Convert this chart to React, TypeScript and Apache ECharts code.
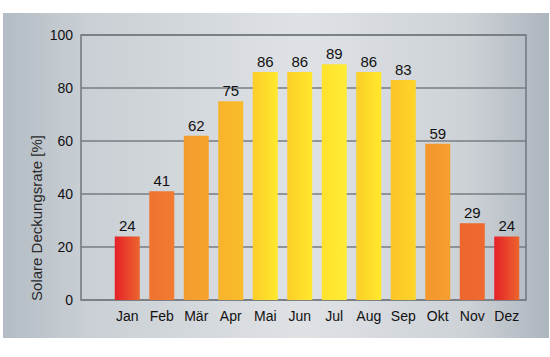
import React, { useEffect, useRef } from "react";
import * as echarts from "echarts";

const months = ["Jan", "Feb", "Mär", "Apr", "Mai", "Jun", "Jul", "Aug", "Sep", "Okt", "Nov", "Dez"];
const coverage = [24, 41, 62, 75, 86, 86, 89, 86, 83, 59, 29, 24];
const yTicks = [0, 20, 40, 60, 80, 100];
const yTitle = "Solare Deckungsrate [%]";

const colorStops: [number, number[]][] = [
  [24, [229, 32, 40]],
  [27, [236, 100, 46]],
  [41, [240, 115, 48]],
  [60, [244, 152, 46]],
  [75, [247, 180, 44]],
  [83, [251, 196, 40]],
  [86, [252, 206, 40]],
  [90, [255, 232, 44]],
  [96, [255, 240, 60]],
];

function colorAt(v: number): string {
  let c = colorStops[colorStops.length - 1][1];
  if (v <= colorStops[0][0]) c = colorStops[0][1];
  for (let i = 0; i < colorStops.length - 1; i++) {
    const [a, ca] = colorStops[i];
    const [b, cb] = colorStops[i + 1];
    if (v >= a && v <= b) {
      const t = (v - a) / (b - a);
      c = ca.map((x, k) => Math.round(x + (cb[k] - x) * t));
      break;
    }
  }
  return `rgb(${c[0]},${c[1]},${c[2]})`;
}

export default function App() {
  const ref = useRef<HTMLDivElement>(null);
  useEffect(() => {
    if (!ref.current) return;
    const chart = echarts.init(ref.current, null, { renderer: "svg" });
    const font = "Liberation Sans, Arial, sans-serif";
    chart.setOption({
      animation: false,
      graphic: [
        {
          type: "rect",
          z: -10,
          silent: true,
          shape: { x: 3, y: 13, width: 546, height: 325 },
          style: {
            fill: new echarts.graphic.LinearGradient(0, 0, 1, 0, [
              { offset: 0, color: "#b3bcc4" },
              { offset: 0.15, color: "#c9cfd4" },
              { offset: 0.55, color: "#dfe2e5" },
              { offset: 0.85, color: "#cdd2d7" },
              { offset: 1, color: "#adb5bd" },
            ]),
          },
        },
        {
          type: "text",
          x: 36,
          y: 218,
          rotation: Math.PI / 2,
          style: {
            text: yTitle,
            fill: "#2a2a2a",
            font: `15px ${font}`,
            align: "center",
            verticalAlign: "middle",
          },
        },
      ],
      grid: [
        { left: 81, right: 24, top: 35, bottom: 57, show: true, borderColor: "#6f767c", borderWidth: 1.5, backgroundColor: "transparent" },
        { left: 110, right: 26, top: 35, bottom: 57 },
      ],
      xAxis: [
        { gridIndex: 0, type: "category", data: months, show: false },
        {
          gridIndex: 1,
          type: "category",
          data: months,
          axisLine: { show: false },
          axisTick: { show: false },
          axisLabel: { color: "#111", fontSize: 14, fontFamily: font, margin: 9 },
        },
      ],
      yAxis: [
        {
          gridIndex: 0,
          type: "value",
          min: yTicks[0],
          max: yTicks[yTicks.length - 1],
          interval: 20,
          axisLine: { show: false },
          axisTick: { show: false },
          axisLabel: { color: "#111", fontSize: 14, fontFamily: font, margin: 8 },
          splitLine: { lineStyle: { color: "#767c82", width: 1.5 } },
        },
        { gridIndex: 1, type: "value", min: 0, max: 100, show: false, splitLine: { show: false } },
      ],
      series: [
        {
          type: "bar",
          xAxisIndex: 1,
          yAxisIndex: 1,
          barWidth: 25,
          data: coverage.map((v) => ({
            value: v,
            itemStyle: {
              color: new echarts.graphic.LinearGradient(0, 0, 1, 0, [
                { offset: 0, color: colorAt(v) },
                { offset: 1, color: colorAt(v + 4) },
              ]),
            },
          })),
          label: {
            show: true,
            position: "top",
            distance: 3,
            color: "#111",
            fontSize: 15,
            fontFamily: font,
          },
        },
      ],
    });
    return () => chart.dispose();
  }, []);
  return (
    <div
      ref={ref}
      style={{ position: "absolute", left: 0, top: 0, width: 550, height: 357, background: "#fff" }}
    />
  );
}
